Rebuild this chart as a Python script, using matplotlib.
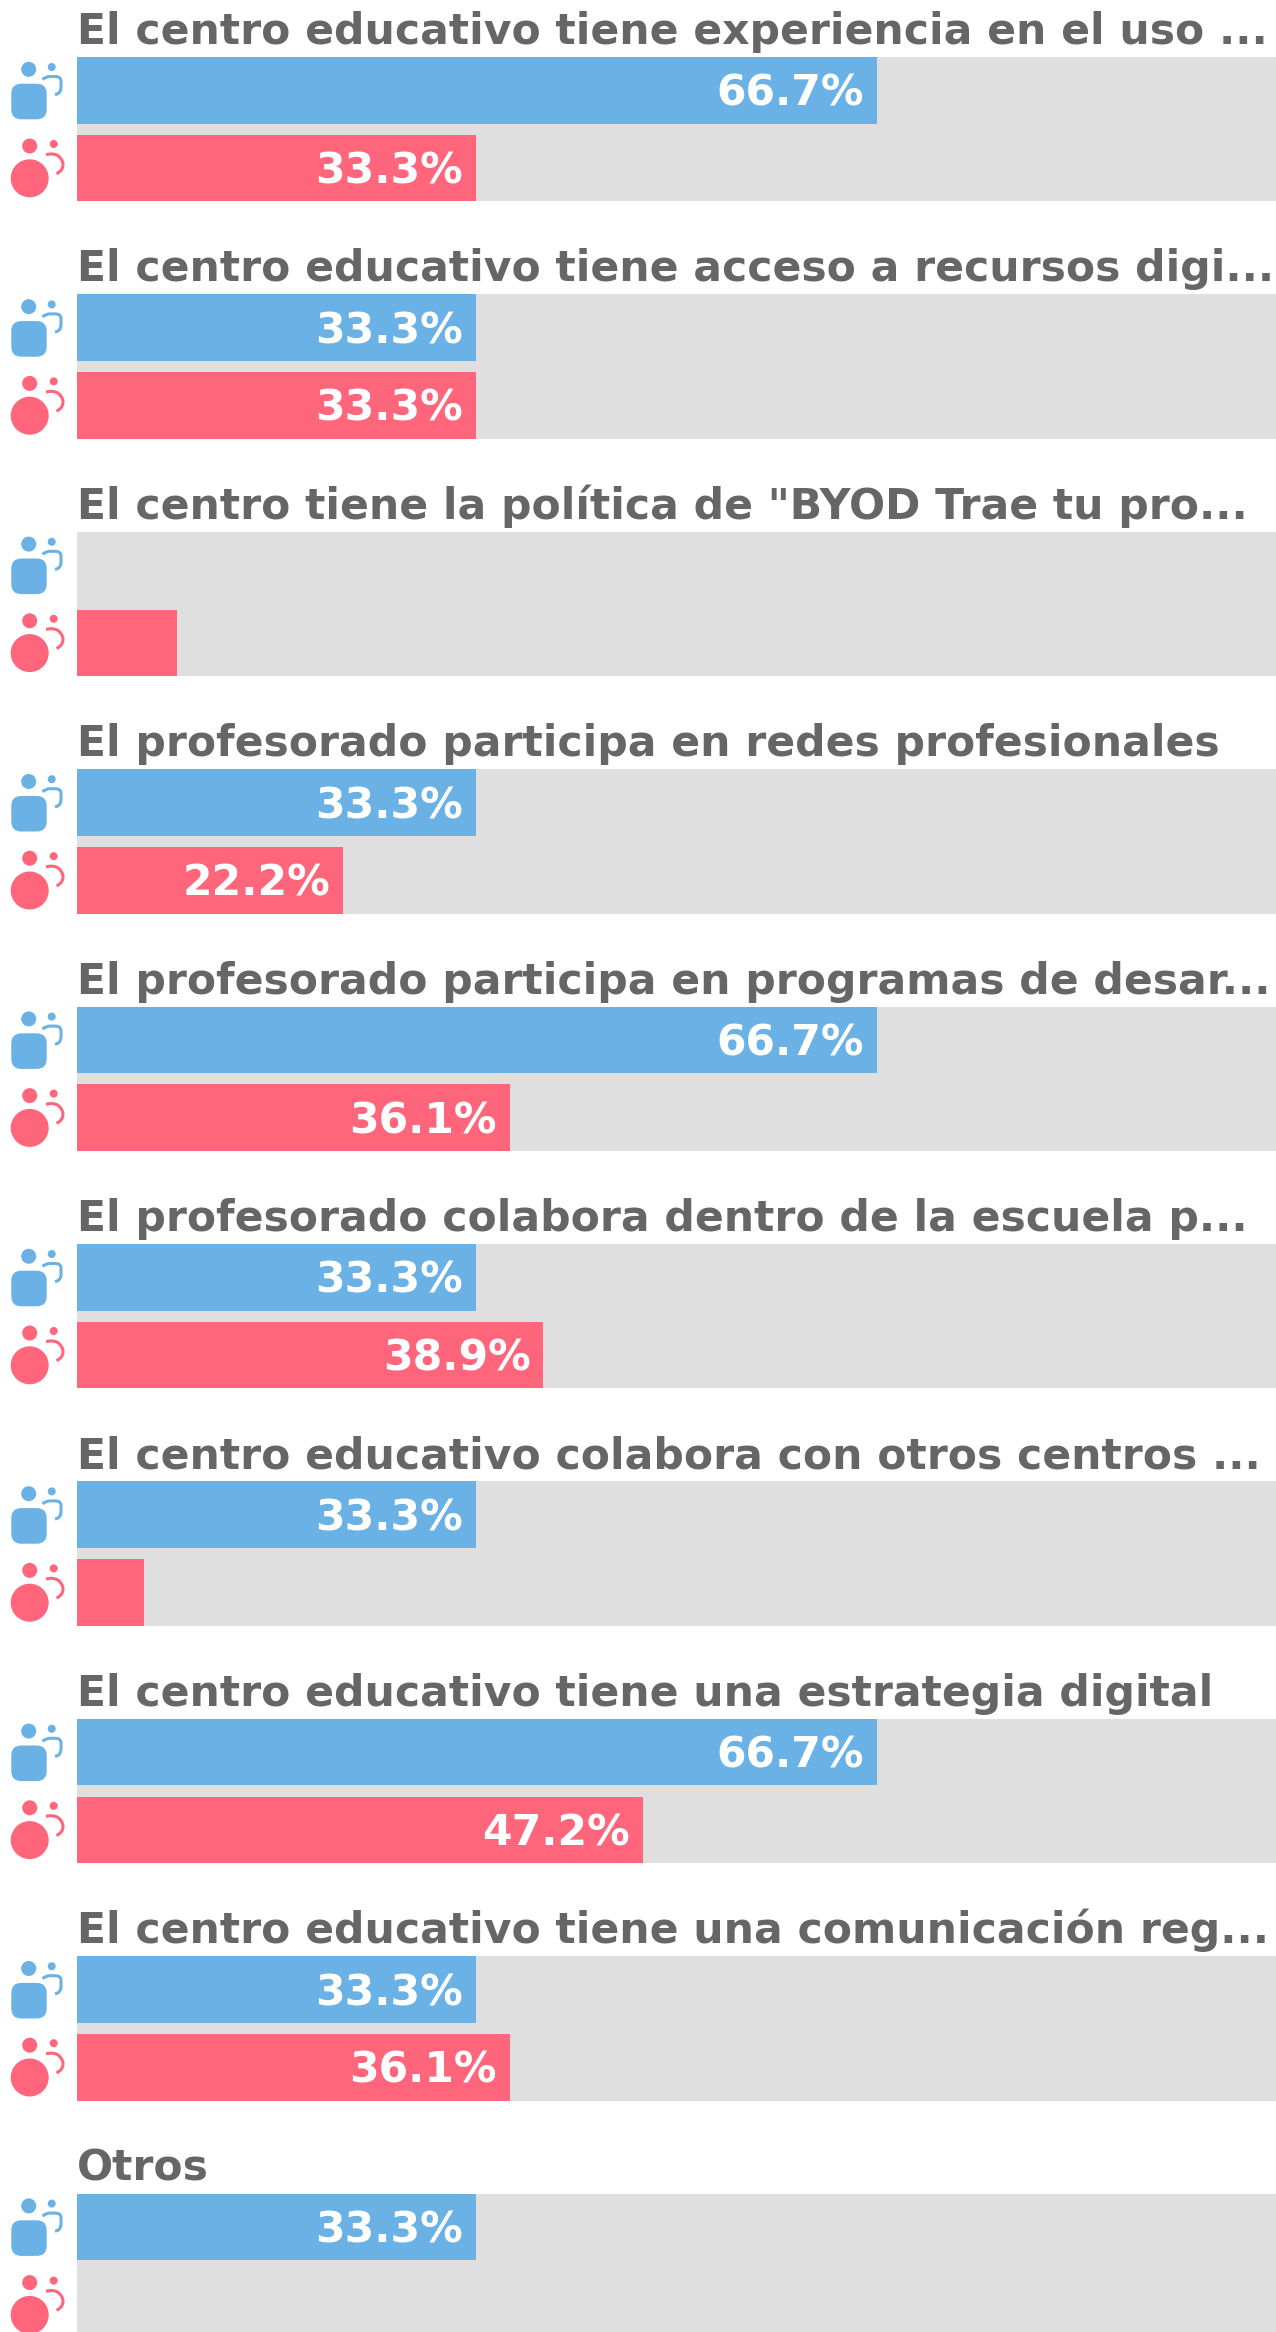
import matplotlib
matplotlib.use("Agg")
import matplotlib.pyplot as plt
from matplotlib.patches import Circle, FancyBboxPatch, PathPatch
from matplotlib.path import Path

titles = [
    "El centro educativo tiene experiencia en el uso ...",
    "El centro educativo tiene acceso a recursos digi...",
    'El centro tiene la política de "BYOD Trae tu pro...',
    "El profesorado participa en redes profesionales",
    "El profesorado participa en programas de desar...",
    "El profesorado colabora dentro de la escuela p...",
    "El centro educativo colabora con otros centros ...",
    "El centro educativo tiene una estrategia digital",
    "El centro educativo tiene una comunicación reg...",
    "Otros",
]
blue_values = [66.7, 33.3, 0, 33.3, 66.7, 33.3, 33.3, 66.7, 33.3, 33.3]
red_values = [33.3, 33.3, 8.3, 22.2, 36.1, 38.9, 5.6, 47.2, 36.1, 0]

BLUE = "#6ab2e5"
RED = "#ff667c"
GREY = "#dfdfdf"
TITLE = "#666666"
W, H = 1276, 2332
LEFT = 77
PITCH = 237.4
TOP = 57
BAR_H = 66.7
RED_OFF = 77.7
MIN_LABEL = 10  # short bars carry no label
FS = 30.6

plt.rcParams["font.family"] = "DejaVu Sans"
fig = plt.figure(figsize=(W / 100, H / 100), dpi=100)

# bars, x axis is percent, y axis in pixels
ax = fig.add_axes([LEFT / W, 0, (W - LEFT) / W, 1])
ax.set_xlim(0, 100)
ax.set_ylim(H, 0)
ax.axis("off")

# icons, plain pixel coordinates over the whole figure
ic = fig.add_axes([0, 0, 1, 1])
ic.set_xlim(0, W)
ic.set_ylim(H, 0)
ic.axis("off")
ic.patch.set_alpha(0)


def blue_icon(y):
    ic.add_patch(Circle((28.7, y + 12.3), 7.5, color=BLUE, lw=0))
    ic.add_patch(Circle((51.7, y + 10), 4, color=BLUE, lw=0))
    ic.add_patch(FancyBboxPatch((18.3, y + 33.7), 21.4, 21.6, boxstyle="round,pad=7,rounding_size=10", color=BLUE, lw=0))
    verts = [(42.5, y + 22.5), (46, y + 19.5), (50, y + 19.5), (55, y + 19.5),
             (61, y + 19.5), (61, y + 24), (61, y + 30), (61, y + 37), (55, y + 37.5)]
    codes = [Path.MOVETO, Path.CURVE3, Path.CURVE3, Path.LINETO, Path.CURVE3, Path.CURVE3,
             Path.LINETO, Path.CURVE3, Path.CURVE3]
    ic.add_patch(PathPatch(Path(verts, codes), fill=False, ec=BLUE, lw=2.2, capstyle="butt"))


def red_icon(y):
    ic.add_patch(Circle((29.7, y + 11.3), 7.5, color=RED, lw=0))
    ic.add_patch(Circle((53.7, y + 9.3), 4, color=RED, lw=0))
    ic.add_patch(Circle((29.7, y + 43.6), 19, color=RED, lw=0))
    verts = [(46, y + 20), (53, y + 18), (58, y + 21), (63, y + 25), (63, y + 30), (63, y + 36), (56.5, y + 39)]
    codes = [Path.MOVETO, Path.CURVE3, Path.CURVE3, Path.CURVE3, Path.CURVE3, Path.CURVE3, Path.CURVE3]
    ic.add_patch(PathPatch(Path(verts, codes), fill=False, ec=RED, lw=2.2, capstyle="butt"))


for i, title in enumerate(titles):
    y0 = TOP + i * PITCH
    y1 = y0 + RED_OFF
    ax.barh(y0 + (RED_OFF + BAR_H) / 2, 100, height=RED_OFF + BAR_H, color=GREY, lw=0)
    ax.barh(y0 + BAR_H / 2, blue_values[i], height=BAR_H, color=BLUE, lw=0)
    ax.barh(y1 + BAR_H / 2, red_values[i], height=BAR_H, color=RED, lw=0)
    ax.text(0, y0 - 13, title, fontsize=FS, fontweight="bold", color=TITLE, ha="left", va="baseline")
    for val, y in [(blue_values[i], y0), (red_values[i], y1)]:
        if val >= MIN_LABEL:
            ax.annotate(f"{val}%", (val, y + BAR_H / 2), xytext=(-9.3, 0.7), textcoords="offset points",
                        fontsize=FS, fontweight="bold", color="white", ha="right", va="center_baseline")
    blue_icon(y0)
    red_icon(y1)

fig.savefig("out.png", dpi=100)
